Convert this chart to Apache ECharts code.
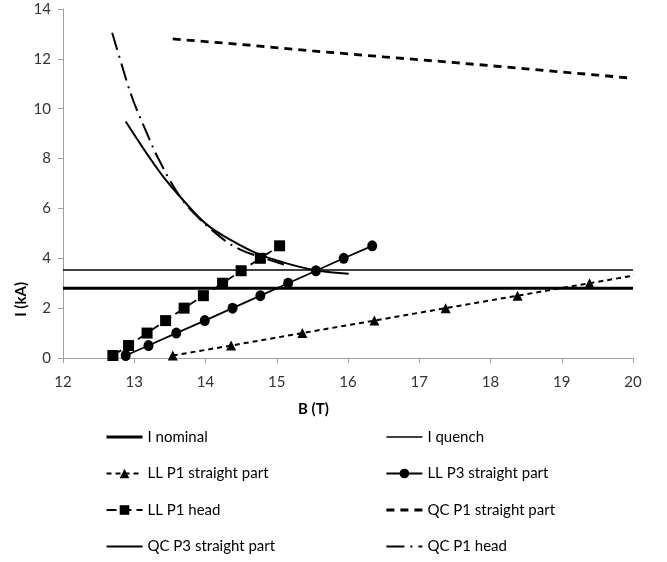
<!DOCTYPE html>
<html>
<head>
<meta charset="utf-8">
<script src="https://cdn.jsdelivr.net/npm/echarts@6/dist/echarts.min.js"></script>
<style>
  html, body { margin: 0; padding: 0; background: #fff; }
  #chart { width: 667px; height: 562px; }
</style>
</head>
<body>
<div id="chart"></div>
<script>
// horizontal reference levels (kA)
const iNominal = 2.8;
const iQuench = 3.53;
const bRange = [12, 20];

// LL P1 straight part (last point lies just past the axis end)
const llP1StraightB = [13.54, 14.36, 15.36, 16.37, 17.37, 18.38, 19.39, 20.4];
const llP1StraightI = [0.1, 0.5, 1.0, 1.5, 2.0, 2.5, 3.0, 3.5];

// LL P3 straight part
const llP3StraightB = [12.88, 13.2, 13.59, 13.99, 14.38, 14.77, 15.16, 15.55, 15.94, 16.34];
const llP3StraightI = [0.1, 0.5, 1.0, 1.5, 2.0, 2.5, 3.0, 3.5, 4.0, 4.5];

// LL P1 head
const llP1HeadB = [12.7, 12.92, 13.18, 13.44, 13.7, 13.97, 14.24, 14.5, 14.77, 15.04];
const llP1HeadI = [0.1, 0.5, 1.0, 1.5, 2.0, 2.5, 3.0, 3.5, 4.0, 4.5];

// QC P1 straight part
const qcP1StraightB = [13.54, 14.5, 15.5, 16.5, 17.5, 18.5, 19.5, 20.0];
const qcP1StraightI = [12.8, 12.58, 12.32, 12.08, 11.85, 11.6, 11.35, 11.22];

// QC P3 straight part
const qcP3StraightB = [12.88, 13.2, 13.4, 13.65, 14.02, 14.39, 14.72, 15.05, 15.54, 16.01];
const qcP3StraightI = [9.49, 8.1, 7.3, 6.45, 5.35, 4.68, 4.2, 3.87, 3.52, 3.38];

// QC P1 head
const qcP1HeadB = [12.69, 12.81, 12.97, 13.18, 13.32, 13.58, 13.79, 14.21, 14.49, 14.77, 15.1];
const qcP1HeadI = [13.05, 11.9, 10.45, 9.0, 8.1, 6.75, 5.95, 4.85, 4.35, 4.05, 3.75];

const yTicks = [0, 2, 4, 6, 8, 10, 12, 14];

const pairs = (xs, ys) => xs.map((x, i) => [x, ys[i]]);
const font = "Lato";
const ink = "#000";

const chart = echarts.init(document.getElementById("chart"));

const baseLine = {
  type: "line",
  clip: true,
  animation: false,
  symbol: "none",
  showSymbol: false,
};

// legend entries for plain lines get their (default) marker hidden
const lineOnly = (name) => ({ name, itemStyle: { opacity: 0 } });

const legendBase = {
  orient: "vertical",
  top: 429,
  height: 200,
  padding: 0,
  itemWidth: 36,
  itemHeight: 12,
  itemGap: 20.5,
  lineStyle: { width: "inherit" },
  textStyle: { fontSize: 15, color: "#000", fontFamily: font, lineHeight: 16 },
};

chart.setOption({
  backgroundColor: "#fff",
  textStyle: { fontFamily: font },
  grid: { left: 63, right: 34, top: 9, bottom: 204 },
  xAxis: {
    type: "value",
    min: bRange[0],
    max: bRange[1],
    interval: 1,
    splitLine: { show: false },
    axisLine: { lineStyle: { color: "#a0a0a0", width: 1 } },
    axisTick: { show: true, length: 5, lineStyle: { color: "#a0a0a0" } },
    axisLabel: { color: "#333", fontSize: 15, margin: 17, fontFamily: font },
  },
  yAxis: {
    type: "value",
    min: yTicks[0],
    max: yTicks[yTicks.length - 1],
    interval: 2,
    splitLine: { show: false },
    axisLine: { show: true, lineStyle: { color: "#a0a0a0", width: 1 } },
    axisTick: { show: true, length: 5, lineStyle: { color: "#a0a0a0" } },
    axisLabel: { color: "#333", fontSize: 15, margin: 12, fontFamily: font },
  },
  graphic: [
    {
      type: "text",
      left: 298,
      top: 402,
      style: { text: "B (T)", font: "bold 15px Lato", fill: "#000" },
    },
    {
      type: "text",
      left: 14,
      top: 282,
      rotation: Math.PI / 2,
      style: { text: "I (kA)", font: "bold 15px Lato", fill: "#000" },
    },
  ],
  legend: [
    {
      ...legendBase,
      left: 105,
      data: [
        lineOnly("I nominal"),
        "LL P1 straight part",
        "LL P1 head",
        lineOnly("QC P3 straight part"),
      ],
    },
    {
      ...legendBase,
      left: 385,
      data: [
        lineOnly("I quench"),
        "LL P3 straight part",
        lineOnly("QC P1 straight part"),
        lineOnly("QC P1 head"),
      ],
    },
  ],
  series: [
    {
      ...baseLine,
      name: "I nominal",
      data: pairs(bRange, [iNominal, iNominal]),
      lineStyle: { color: ink, width: 3 },
      itemStyle: { color: ink },
    },
    {
      ...baseLine,
      name: "I quench",
      data: pairs(bRange, [iQuench, iQuench]),
      lineStyle: { color: ink, width: 1.3 },
      itemStyle: { color: ink },
    },
    {
      ...baseLine,
      name: "LL P1 straight part",
      data: pairs(llP1StraightB, llP1StraightI),
      symbol: "triangle",
      showSymbol: true,
      symbolSize: 10,
      lineStyle: { color: ink, width: 2, type: [5, 4] },
      itemStyle: { color: ink },
    },
    {
      ...baseLine,
      name: "LL P3 straight part",
      data: pairs(llP3StraightB, llP3StraightI),
      symbol: "circle",
      showSymbol: true,
      symbolSize: [10, 11],
      lineStyle: { color: ink, width: 1.8 },
      itemStyle: { color: ink },
    },
    {
      ...baseLine,
      name: "LL P1 head",
      data: pairs(llP1HeadB, llP1HeadI),
      symbol: "rect",
      showSymbol: true,
      symbolSize: 11,
      lineStyle: { color: ink, width: 1.8, type: [10, 5] },
      itemStyle: { color: ink },
    },
    {
      ...baseLine,
      name: "QC P1 straight part",
      data: pairs(qcP1StraightB, qcP1StraightI),
      lineStyle: { color: ink, width: 2.8, type: [8, 6] },
      itemStyle: { color: ink },
    },
    {
      ...baseLine,
      name: "QC P3 straight part",
      data: pairs(qcP3StraightB, qcP3StraightI),
      smooth: 0.4,
      lineStyle: { color: ink, width: 2 },
      itemStyle: { color: ink },
    },
    {
      ...baseLine,
      name: "QC P1 head",
      data: pairs(qcP1HeadB, qcP1HeadI),
      smooth: 0.4,
      lineStyle: { color: ink, width: 2, type: [18, 6, 2, 6] },
      itemStyle: { color: ink },
    },
  ],
});
</script>
</body>
</html>
